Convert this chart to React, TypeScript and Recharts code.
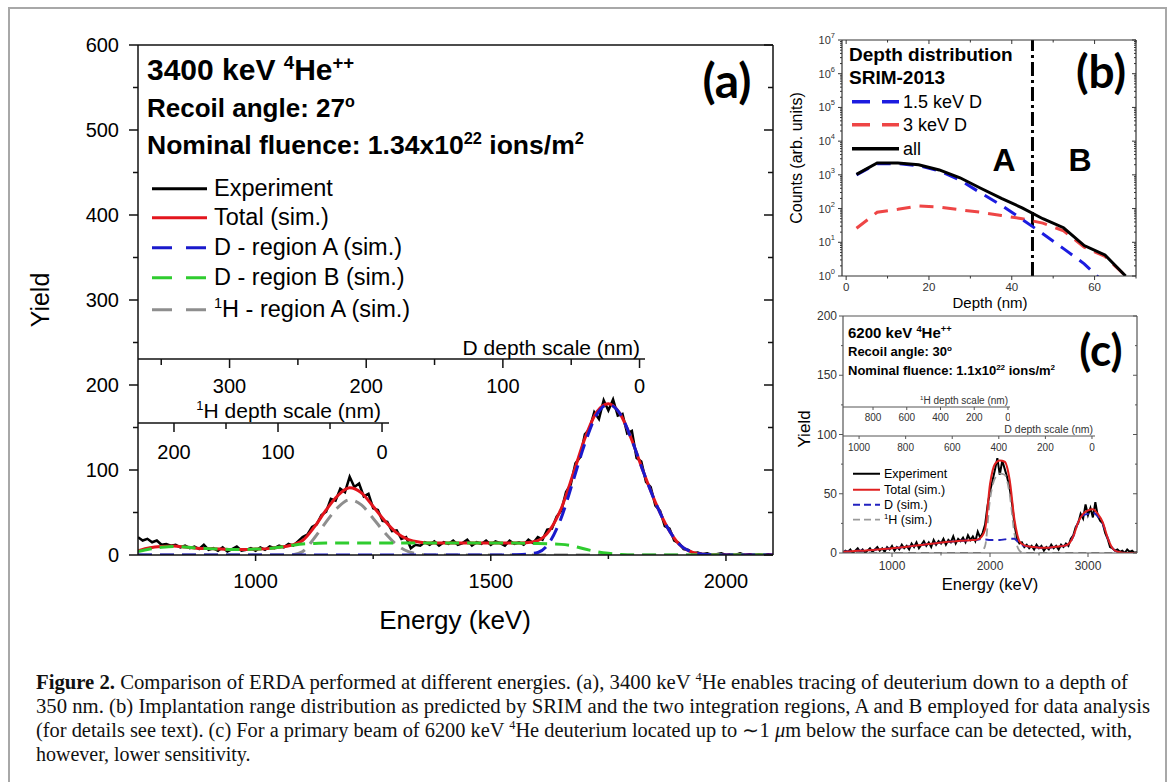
import React from 'react';
import { LineChart, Line, XAxis, YAxis, ReferenceLine } from 'recharts';

const SANS = '"Liberation Sans", Arial, Helvetica, sans-serif';
const CAL = 'Lato, "Open Sans", sans-serif';
const SERIF = '"Liberation Serif", "Times New Roman", serif';

// ---------- panel (a): 3400 keV 4He++ ----------
// experiment sampled every 10 keV from 750 keV
const aExpStart = 750;
const aExpStep = 10;
const aExperiment = [
  21, 17, 19, 15, 17, 12, 13, 11, 12, 9,
  11, 8, 10, 7, 12, 6, 8, 5, 9, 4,
  7, 10, 5, 6, 8, 5, 9, 6, 10, 8,
  11, 9, 13, 11, 16, 21, 24, 33, 36, 47,
  51, 66, 64, 78, 74, 92, 80, 84, 69, 72,
  55, 53, 40, 39, 28, 29, 19, 21, 8, 12,
  11, 15, 12, 16, 11, 15, 13, 17, 12, 14,
  18, 11, 15, 13, 17, 12, 16, 14, 11, 17,
  13, 15, 12, 18, 14, 21, 18, 30, 31, 45,
  52, 74, 83, 108, 115, 142, 148, 168, 160, 182,
  170, 183, 164, 166, 143, 146, 114, 110, 86, 80,
  58, 52, 34, 31, 17, 14, 7, 6, 2, 3,
  1, 2, 0, 1, 2, 0, 1, 0, 2, 0,
  1, 0, 1, 0, 1, 0,
];
const aSimEnergy = [
  750, 775, 800, 825, 850, 875, 900, 925, 950, 975,
  1000, 1025, 1050, 1075, 1100, 1125, 1150, 1175, 1200, 1225,
  1250, 1275, 1300, 1325, 1350, 1375, 1400, 1425, 1450, 1475,
  1500, 1525, 1550, 1575, 1600, 1625, 1650, 1675, 1700, 1725,
  1750, 1775, 1800, 1825, 1850, 1875, 1900, 1925, 1950, 1975,
  2000, 2025, 2050, 2075, 2100,
];
const aTotal = [
  5, 8.5, 10, 10.5, 9.5, 8, 7.5, 7, 6.5, 6.5,
  7, 7.5, 9, 11.5, 17, 33, 53, 70, 79, 73,
  57, 40, 26, 18, 15, 14, 14, 14, 14, 14,
  14, 14, 14, 14.5, 17, 29, 55, 95, 137, 168,
  178, 166, 135, 97, 62, 33, 13, 4, 1, 0.3,
  0, 0, 0, 0, 0,
];
const aDRegionA = [
  0, 0, 0, 0, 0, 0, 0, 0, 0, 0,
  0, 0, 0, 0, 0, 0, 0, 0, 0, 0,
  0, 0, 0, 0, 0, 0, 0, 0, 0, 0,
  0, 0, 0.3, 1, 3, 15, 44, 87, 131, 165,
  177, 166, 135, 97, 62, 33, 13, 4, 1, 0.3,
  0, 0, 0, 0, 0,
];
const aDRegionB = [
  4, 7, 9, 10, 9.5, 8, 7.5, 7, 6.5, 6.5,
  7, 7.5, 9, 11, 13, 13.5, 14, 14, 14, 14,
  14, 14, 14, 14, 14, 14, 14, 14, 14, 14,
  14, 14, 14, 13.8, 13.5, 13, 12.5, 10.5, 7, 4,
  2, 0.7, 0, 0, 0, 0, 0, 0, 0, 0,
  0, 0, 0, 0, 0,
];
const aHRegionA = [
  0, 0, 0, 0, 0, 0, 0, 0, 0, 0,
  0, 0, 0, 0, 4, 20, 39, 56, 65, 59,
  43, 26, 12, 4, 1, 0, 0, 0, 0, 0,
  0, 0, 0, 0, 0, 0, 0, 0, 0, 0,
  0, 0, 0, 0, 0, 0, 0, 0, 0, 0,
  0, 0, 0, 0, 0,
];

// ---------- panel (b): SRIM depth distribution ----------
const bDepth = [2.5, 7.5, 12.5, 17.5, 22.5, 27.5, 32.5, 37.5, 42.5, 47.5, 52.5, 57.5, 62.5, 67.5];
const bAll = [1030, 2250, 2250, 1980, 1400, 820, 400, 200, 105, 50, 27, 8, 4.2, 1.0];
const b15keV = [1000, 2150, 2150, 1880, 1300, 700, 290, 125, 48, 18, 6.5, 2.3, 0.6, 0.15];
const b3keV = [26, 78, 95, 120, 110, 92, 78, 62, 50, 37, 22, 7.2, 3.8, 1.0];
const bBoundary = 45; // nm, A | B

// ---------- panel (c): 6200 keV 4He++ ----------
// experiment sampled every 25 keV from 500 keV
const cExpStart = 500;
const cExpStep = 25;
const cExperiment = [
  0, 2, 1, 3, 0, 2, 4, 1, 3, 0,
  2, 4, 1, 3, 5, 2, 4, 1, 5, 3,
  6, 2, 5, 3, 7, 4, 6, 3, 8, 5,
  9, 4, 7, 10, 6, 9, 5, 11, 7, 10,
  8, 12, 7, 11, 9, 14, 8, 12, 10, 13,
  9, 15, 11, 14, 10, 18, 13, 17, 24, 40,
  52, 61, 70, 80, 66, 78, 71, 64, 55, 42,
  24, 12, 8, 9, 5, 7, 4, 6, 3, 7,
  4, 6, 2, 5, 3, 7, 4, 6, 3, 7,
  5, 8, 6, 12, 15, 22, 25, 33, 29, 41,
  32, 38, 30, 43, 31, 27, 25, 17, 12, 5,
  4, 2, 3, 1, 2, 0, 3, 1, 2, 0,
  1,
];
const cSimEnergy = [
  500, 550, 600, 650, 700, 750, 800, 850, 900, 950,
  1000, 1050, 1100, 1150, 1200, 1250, 1300, 1350, 1400, 1450,
  1500, 1550, 1600, 1650, 1700, 1750, 1800, 1850, 1900, 1950,
  2000, 2050, 2100, 2150, 2200, 2250, 2300, 2350, 2400, 2450,
  2500, 2550, 2600, 2650, 2700, 2750, 2800, 2850, 2900, 2950,
  3000, 3050, 3100, 3150, 3200, 3250, 3300, 3350, 3400, 3450,
  3500,
];
const cTotal = [
  1, 1.2, 1.5, 1.8, 2, 2.3, 2.6, 3, 3.3, 3.6,
  4, 4.4, 4.8, 5.3, 5.8, 6.3, 6.8, 7.3, 7.8, 8.3,
  8.8, 9.2, 9.6, 10, 10.3, 10.5, 10.8, 11, 12.5, 20,
  58, 75, 78, 77, 62, 28, 10, 6.5, 5.5, 5,
  4.5, 4.5, 4.5, 5, 5.5, 6, 7.5, 14, 26, 33,
  36, 37, 33, 26, 13, 4, 1, 0.3, 0, 0,
  0,
];
const cD = [
  1, 1.2, 1.5, 1.8, 2, 2.3, 2.6, 3, 3.3, 3.6,
  4, 4.4, 4.8, 5.3, 5.8, 6.3, 6.8, 7.3, 7.8, 8.3,
  8.8, 9.2, 9.6, 10, 10.3, 10.5, 10.8, 11, 11.5, 11.5,
  11, 11, 11, 11.5, 12, 12, 8, 6, 5.5, 5,
  4.5, 4.5, 4.5, 5, 5.5, 6, 7.5, 14, 26, 32,
  33, 34, 31, 25, 13, 4, 1, 0.3, 0, 0,
  0,
];
const cH = [
  0, 0, 0, 0, 0, 0, 0, 0, 0, 0,
  0, 0, 0, 0, 0, 0, 0, 0, 0, 0,
  0, 0, 0, 0, 0, 0, 0, 0, 0, 6,
  45, 63, 67, 66, 50, 16, 2, 0, 0, 0,
  0, 0, 0, 0, 0, 0, 0, 0, 0, 0,
  0, 0, 0, 0, 0, 0, 0, 0, 0, 0,
  0,
];

// ---------- tick helper ----------
type Side = 'left' | 'right' | 'top' | 'bottom';
type TickSpec = {
  side: Side;
  inward?: boolean;
  majors: number[];
  majorLen: number;
  minorLen: number;
  label?: (v: number) => React.ReactNode;
  labelOffset?: number;
  fontSize?: number;
  color?: string;
  stroke?: string;
  strokeWidth?: number;
};

const isIn = (v: number, list: number[]) =>
  list.some((m) => Math.abs(m - v) <= 1e-6 * Math.max(1, Math.abs(m)));

function tickFn(s: TickSpec) {
  return (props: any) => {
    const { x, y, payload } = props;
    const v = Number(payload?.value);
    const major = isIn(v, s.majors);
    const len = major ? s.majorLen : s.minorLen;
    const sign = s.inward ? -1 : 1;
    const dx = s.side === 'left' ? -sign : s.side === 'right' ? sign : 0;
    const dy = s.side === 'top' ? -sign : s.side === 'bottom' ? sign : 0;
    const off = s.labelOffset ?? 0;
    let lx = x;
    let ly = y;
    let anchor: 'start' | 'middle' | 'end' = 'middle';
    if (s.side === 'left') { lx = x - off; anchor = 'end'; }
    if (s.side === 'right') { lx = x + off; anchor = 'start'; }
    if (s.side === 'bottom') ly = y + off;
    if (s.side === 'top') ly = y - off;
    return (
      <g>
        {len > 0 && (
          <line x1={x} y1={y} x2={x + dx * len} y2={y + dy * len}
            stroke={s.stroke ?? '#000'} strokeWidth={s.strokeWidth ?? 1} />
        )}
        {major && s.label && (
          <text x={lx} y={ly} textAnchor={anchor} dominantBaseline="central"
            fontSize={s.fontSize} fontFamily={SANS} fill={s.color ?? '#000'}>
            {s.label(v)}
          </text>
        )}
      </g>
    );
  };
}

const plain = (v: number) => String(v);

// ---------- small html helpers ----------
type TxtProps = {
  x: number; y: number; size: number; bold?: boolean; family?: string;
  anchor?: 'start' | 'middle' | 'end'; color?: string; rotate?: boolean;
  children: React.ReactNode;
};
function Txt({ x, y, size, bold, family = SANS, anchor = 'start', color = '#000', rotate, children }: TxtProps) {
  const tx = anchor === 'start' ? '0' : anchor === 'middle' ? '-50%' : '-100%';
  return (
    <div style={{
      position: 'absolute', left: x, top: y,
      transform: rotate ? 'translate(-50%, -50%) rotate(-90deg)' : `translate(${tx}, -50%)`,
      fontSize: size, fontWeight: bold ? 700 : 400, fontFamily: family, color,
      whiteSpace: 'nowrap', lineHeight: 1,
    }}>{children}</div>
  );
}

const Sup = ({ children }: { children: React.ReactNode }) => (
  <span style={{ fontSize: '0.62em', position: 'relative', top: '-0.6em' }}>{children}</span>
);

type LegProps = {
  x: number; y: number; len: number; color: string; width: number; dash?: string;
  size: number; gap: number; children: React.ReactNode;
};
function LegendRow({ x, y, len, color, width, dash, size, gap, children }: LegProps) {
  const h = width + 2;
  return (
    <div style={{
      position: 'absolute', left: x, top: y, transform: 'translateY(-50%)',
      display: 'flex', alignItems: 'center', whiteSpace: 'nowrap',
      fontFamily: SANS, fontSize: size, lineHeight: 1,
    }}>
      <svg width={len} height={h} style={{ marginRight: gap, display: 'block' }}>
        <line x1={0} y1={h / 2} x2={len} y2={h / 2} stroke={color} strokeWidth={width} strokeDasharray={dash} />
      </svg>
      <span>{children}</span>
    </div>
  );
}

// secondary depth scale drawn inside a plot (axis line at y = lineY)
type DepthProps = {
  left: number; lineY: number; width: number; domain: [number, number];
  ticks: number[]; majors: number[]; majorLen: number; minorLen: number;
  labelOffset: number; fontSize: number; color: string; stroke: string; strokeWidth: number;
};
function DepthAxis(p: DepthProps) {
  const H = 48;
  return (
    <div style={{ position: 'absolute', left: p.left, top: p.lineY - 1, pointerEvents: 'none' }}>
      <LineChart width={p.width} height={H} margin={{ top: 0, right: 0, bottom: 0, left: 0 }}
        data={[{ d: p.domain[0] }, { d: p.domain[1] }]}>
        <XAxis dataKey="d" type="number" domain={p.domain} allowDataOverflow reversed
          ticks={p.ticks} interval={0} height={H - 1} tickSize={0} tickMargin={0} tickLine={false}
          axisLine={{ stroke: p.stroke, strokeWidth: p.strokeWidth }}
          tick={tickFn({
            side: 'bottom', majors: p.majors, majorLen: p.majorLen, minorLen: p.minorLen,
            label: plain, labelOffset: p.labelOffset, fontSize: p.fontSize, color: p.color,
            stroke: p.stroke, strokeWidth: p.strokeWidth,
          })} />
        <YAxis hide />
      </LineChart>
    </div>
  );
}

// ---------- panels ----------
function PanelA() {
  const expData = aExperiment.map((y, i) => ({ e: aExpStart + i * aExpStep, y }));
  const simData = aSimEnergy.map((e, i) => ({
    e, total: aTotal[i], dA: aDRegionA[i], dB: aDRegionB[i], h: aHRegionA[i],
  }));
  const yTicks = [0, 50, 100, 150, 200, 250, 300, 350, 400, 450, 500, 550, 600];
  const yMajors = [0, 100, 200, 300, 400, 500, 600];
  const xTicks = [1000, 1250, 1500, 1750, 2000];
  const xMajors = [1000, 1500, 2000];
  const ax = { stroke: '#111', strokeWidth: 1.5 };
  const common = { dot: false, isAnimationActive: false, xAxisId: 'b', yAxisId: 'l' } as const;
  return (
    <>
      <div style={{ position: 'absolute', left: 0, top: 0 }}>
        <LineChart width={800} height={650} margin={{ top: 44, right: 26, bottom: 0, left: 0 }}>
          <XAxis xAxisId="b" dataKey="e" type="number" domain={[750, 2100]} allowDataOverflow
            ticks={xTicks} interval={0} height={95} tickSize={0} tickMargin={0} tickLine={false} axisLine={ax}
            tick={tickFn({ side: 'bottom', majors: xMajors, majorLen: 6, minorLen: 4, label: plain, labelOffset: 26, fontSize: 20, stroke: '#111', strokeWidth: 1.5 })} />
          <XAxis xAxisId="t" orientation="top" type="number" domain={[750, 2100]} allowDataOverflow
            ticks={xTicks} interval={0} height={1} tickSize={0} tickMargin={0} tickLine={false} axisLine={ax}
            tick={tickFn({ side: 'top', inward: true, majors: xMajors, majorLen: 6, minorLen: 4, stroke: '#111', strokeWidth: 1.5 })} />
          <YAxis yAxisId="l" type="number" domain={[0, 600]} allowDataOverflow ticks={yTicks} interval={0}
            width={138} tickSize={0} tickMargin={0} tickLine={false} axisLine={ax}
            tick={tickFn({ side: 'left', majors: yMajors, majorLen: 9, minorLen: 5, label: plain, labelOffset: 19, fontSize: 20, stroke: '#111', strokeWidth: 1.5 })} />
          <YAxis yAxisId="r" orientation="right" type="number" domain={[0, 600]} allowDataOverflow ticks={yTicks} interval={0}
            width={1} tickSize={0} tickMargin={0} tickLine={false} axisLine={ax}
            tick={tickFn({ side: 'right', inward: true, majors: yMajors, majorLen: 9, minorLen: 5, stroke: '#111', strokeWidth: 1.5 })} />
          <Line {...common} data={expData} dataKey="y" type="linear" stroke="#000" strokeWidth={2.5} />
          <Line {...common} data={simData} dataKey="total" type="monotone" stroke="#e3151d" strokeWidth={3} />
          <Line {...common} data={simData} dataKey="h" type="monotone" stroke="#8e8e8e" strokeWidth={3} strokeDasharray="14 8" />
          <Line {...common} data={simData} dataKey="dB" type="monotone" stroke="#2fcc2f" strokeWidth={3} strokeDasharray="14 8" />
          <Line {...common} data={simData} dataKey="dA" type="monotone" stroke="#1a1acc" strokeWidth={3} strokeDasharray="14 8" />
        </LineChart>
      </div>

      <DepthAxis left={138} lineY={359} width={507} domain={[-4, 367]}
        ticks={[350, 300, 250, 200, 150, 100, 50, 0]} majors={[300, 200, 100, 0]}
        majorLen={9} minorLen={6} labelOffset={27} fontSize={20} color="#000" stroke="#111" strokeWidth={1.5} />
      <Txt x={640} y={347} size={21} anchor="end">D depth scale (nm)</Txt>

      <DepthAxis left={138} lineY={423} width={251} domain={[-6.7, 234.6]}
        ticks={[200, 150, 100, 50, 0]} majors={[200, 100, 0]}
        majorLen={9} minorLen={6} labelOffset={29} fontSize={20} color="#000" stroke="#111" strokeWidth={1.5} />
      <Txt x={381} y={410} size={21} anchor="end"><Sup>1</Sup>H depth scale (nm)</Txt>

      <Txt x={147} y={70} size={30} bold>3400 keV <Sup>4</Sup>He<Sup>++</Sup></Txt>
      <Txt x={147} y={108} size={26} bold>Recoil angle: 27<Sup>o</Sup></Txt>
      <Txt x={147} y={145} size={26.5} bold>Nominal fluence: 1.34x10<Sup>22</Sup> ions/m<Sup>2</Sup></Txt>
      <Txt x={727} y={80} size={48} bold family={CAL} anchor="middle">(a)</Txt>

      <LegendRow x={152} y={189} len={55} color="#000" width={3} size={23.5} gap={7}>Experiment</LegendRow>
      <LegendRow x={152} y={218} len={55} color="#e3151d" width={3} size={23.5} gap={7}>Total (sim.)</LegendRow>
      <LegendRow x={152} y={248} len={55} color="#1a1acc" width={3} dash="20 14" size={23.5} gap={7}>D - region A (sim.)</LegendRow>
      <LegendRow x={152} y={278} len={55} color="#2fcc2f" width={3} dash="20 14" size={23.5} gap={7}>D - region B (sim.)</LegendRow>
      <LegendRow x={152} y={310} len={55} color="#8e8e8e" width={3} dash="20 14" size={23.5} gap={7}><Sup>1</Sup>H - region A (sim.)</LegendRow>

      <Txt x={40} y={300} size={25} rotate>Yield</Txt>
      <Txt x={455} y={620} size={26} anchor="middle">Energy (keV)</Txt>
    </>
  );
}

function PanelB() {
  const data = bDepth.map((d, i) => ({ d, all: bAll[i], low: b15keV[i], high: b3keV[i] }));
  const decades = [1, 10, 100, 1e3, 1e4, 1e5, 1e6, 1e7];
  const yTicks: number[] = [];
  decades.forEach((dec, k) => {
    yTicks.push(dec);
    if (k < decades.length - 1) [2, 3, 4, 5, 6, 7, 8, 9].forEach((m) => yTicks.push(m * dec));
  });
  const xTicks = [0, 10, 20, 30, 40, 50, 60, 70];
  const xMajors = [0, 20, 40, 60];
  const ax = { stroke: '#333', strokeWidth: 1.2 };
  const logLabel = (v: number) => (
    <>
      <tspan>10</tspan>
      <tspan dy={-5} fontSize={7.5}>{Math.round(Math.log10(v))}</tspan>
    </>
  );
  const common = { dot: false, isAnimationActive: false, xAxisId: 'b', yAxisId: 'l', type: 'linear' } as const;
  return (
    <>
      <div style={{ position: 'absolute', left: 780, top: 0 }}>
        <LineChart width={380} height={320} margin={{ top: 39, right: 23, bottom: 0, left: 0 }} data={data}>
          <XAxis xAxisId="b" dataKey="d" type="number" domain={[-1, 70]} allowDataOverflow
            ticks={xTicks} interval={0} height={44} tickSize={0} tickMargin={0} tickLine={false} axisLine={ax}
            tick={tickFn({ side: 'bottom', majors: xMajors, majorLen: 4, minorLen: 2.5, label: plain, labelOffset: 11, fontSize: 11.5, color: '#333', stroke: '#333' })} />
          <XAxis xAxisId="t" orientation="top" dataKey="d" type="number" domain={[-1, 70]} allowDataOverflow
            ticks={xTicks} interval={0} height={1} tickSize={0} tickMargin={0} tickLine={false} axisLine={ax}
            tick={tickFn({ side: 'top', inward: true, majors: xMajors, majorLen: 4, minorLen: 2.5, stroke: '#333' })} />
          <YAxis yAxisId="l" type="number" scale="log" domain={[1, 1e7]} allowDataOverflow ticks={yTicks} interval={0}
            width={62} tickSize={0} tickMargin={0} tickLine={false} axisLine={ax}
            tick={tickFn({ side: 'left', majors: decades, majorLen: 4, minorLen: 2, label: logLabel, labelOffset: 7, fontSize: 11, color: '#333', stroke: '#333' })} />
          <YAxis yAxisId="r" orientation="right" type="number" scale="log" domain={[1, 1e7]} allowDataOverflow ticks={yTicks} interval={0}
            width={1} tickSize={0} tickMargin={0} tickLine={false} axisLine={ax}
            tick={tickFn({ side: 'right', inward: true, majors: decades, majorLen: 4, minorLen: 2, stroke: '#333' })} />
          <ReferenceLine xAxisId="b" yAxisId="l" x={bBoundary} stroke="#000" strokeWidth={3} strokeDasharray="14 4 3 4" />
          <Line {...common} dataKey="high" stroke="#ee4545" strokeWidth={3} strokeDasharray="14 9" />
          <Line {...common} dataKey="low" stroke="#1c1ce0" strokeWidth={3} strokeDasharray="14 9" />
          <Line {...common} dataKey="all" stroke="#000" strokeWidth={3} />
        </LineChart>
      </div>
      <Txt x={849} y={54} size={19} bold>Depth distribution</Txt>
      <Txt x={849} y={77} size={19} bold>SRIM-2013</Txt>
      <LegendRow x={852} y={102} len={47} color="#1c1ce0" width={3.5} dash="18 12" size={18} gap={4}>1.5 keV D</LegendRow>
      <LegendRow x={852} y={125} len={47} color="#ee4545" width={3.5} dash="18 12" size={18} gap={4}>3 keV D</LegendRow>
      <LegendRow x={852} y={149} len={47} color="#000" width={3.5} size={18} gap={4}>all</LegendRow>
      <Txt x={1004} y={160} size={32} bold anchor="middle">A</Txt>
      <Txt x={1080} y={160} size={32} bold anchor="middle">B</Txt>
      <Txt x={1101} y={71} size={46} bold family={CAL} anchor="middle">(b)</Txt>
      <Txt x={797} y={158} size={16} rotate>Counts (arb. units)</Txt>
      <Txt x={990} y={302} size={15} anchor="middle">Depth (nm)</Txt>
    </>
  );
}

function PanelC() {
  const expData = cExperiment.map((y, i) => ({ e: cExpStart + i * cExpStep, y }));
  const simData = cSimEnergy.map((e, i) => ({ e, total: cTotal[i], d: cD[i], h: cH[i] }));
  const yTicks = [0, 25, 50, 75, 100, 125, 150, 175, 200];
  const yMajors = [0, 50, 100, 150, 200];
  const xTicks = [1000, 1500, 2000, 2500, 3000];
  const xMajors = [1000, 2000, 3000];
  const ax = { stroke: '#555', strokeWidth: 1.2 };
  const common = { dot: false, isAnimationActive: false, xAxisId: 'b', yAxisId: 'l' } as const;
  return (
    <>
      <div style={{ position: 'absolute', left: 780, top: 290 }}>
        <LineChart width={380} height={320} margin={{ top: 25, right: 22, bottom: 0, left: 0 }}>
          <XAxis xAxisId="b" dataKey="e" type="number" domain={[500, 3500]} allowDataOverflow
            ticks={xTicks} interval={0} height={57} tickSize={0} tickMargin={0} tickLine={false} axisLine={ax}
            tick={tickFn({ side: 'bottom', majors: xMajors, majorLen: 4, minorLen: 2.5, label: plain, labelOffset: 13, fontSize: 12, color: '#333', stroke: '#555' })} />
          <XAxis xAxisId="t" orientation="top" type="number" domain={[500, 3500]} allowDataOverflow
            ticks={xTicks} interval={0} height={1} tickSize={0} tickMargin={0} tickLine={false} axisLine={ax}
            tick={tickFn({ side: 'top', inward: true, majors: xMajors, majorLen: 4, minorLen: 2.5, stroke: '#555' })} />
          <YAxis yAxisId="l" type="number" domain={[0, 200]} allowDataOverflow ticks={yTicks} interval={0}
            width={63} tickSize={0} tickMargin={0} tickLine={false} axisLine={ax}
            tick={tickFn({ side: 'left', majors: yMajors, majorLen: 4, minorLen: 2, label: plain, labelOffset: 6, fontSize: 12, color: '#333', stroke: '#555' })} />
          <YAxis yAxisId="r" orientation="right" type="number" domain={[0, 200]} allowDataOverflow ticks={yTicks} interval={0}
            width={1} tickSize={0} tickMargin={0} tickLine={false} axisLine={ax}
            tick={tickFn({ side: 'right', inward: true, majors: yMajors, majorLen: 4, minorLen: 2, stroke: '#555' })} />
          <Line {...common} data={expData} dataKey="y" type="linear" stroke="#000" strokeWidth={2} />
          <Line {...common} data={simData} dataKey="h" type="monotone" stroke="#9a9a9a" strokeWidth={1.8} strokeDasharray="8 5" />
          <Line {...common} data={simData} dataKey="d" type="monotone" stroke="#2222c0" strokeWidth={2} strokeDasharray="8 5" />
          <Line {...common} data={simData} dataKey="total" type="monotone" stroke="#e02020" strokeWidth={2} />
        </LineChart>
      </div>

      <DepthAxis left={843} lineY={407} width={167} domain={[-12, 978]}
        ticks={[800, 600, 400, 200, 0]} majors={[800, 600, 400, 200, 0]}
        majorLen={3} minorLen={0} labelOffset={10} fontSize={10} color="#333" stroke="#555" strokeWidth={1} />
      <Txt x={1008} y={401} size={10} anchor="end" color="#333"><Sup>1</Sup>H depth scale (nm)</Txt>
      <DepthAxis left={843} lineY={436} width={252} domain={[-13, 1069]}
        ticks={[1000, 800, 600, 400, 200, 0]} majors={[1000, 800, 600, 400, 200, 0]}
        majorLen={3} minorLen={0} labelOffset={11} fontSize={10} color="#333" stroke="#555" strokeWidth={1} />
      <Txt x={1093} y={429} size={10.5} anchor="end" color="#333">D depth scale (nm)</Txt>

      <Txt x={848} y={333} size={15} bold>6200 keV <Sup>4</Sup>He<Sup>++</Sup></Txt>
      <Txt x={848} y={352} size={13} bold>Recoil angle: 30<Sup>o</Sup></Txt>
      <Txt x={848} y={371} size={13} bold>Nominal fluence: 1.1x10<Sup>22</Sup> ions/m<Sup>2</Sup></Txt>
      <Txt x={1101} y={349} size={44} bold family={CAL} anchor="middle">(c)</Txt>

      <LegendRow x={853} y={474} len={27} color="#000" width={2} size={12.5} gap={4}>Experiment</LegendRow>
      <LegendRow x={853} y={490} len={27} color="#e02020" width={2} size={12.5} gap={4}>Total (sim.)</LegendRow>
      <LegendRow x={853} y={505} len={27} color="#2222c0" width={2} dash="7 4" size={12.5} gap={4}>D (sim.)</LegendRow>
      <LegendRow x={853} y={520} len={27} color="#9a9a9a" width={1.8} dash="7 4" size={12.5} gap={4}><Sup>1</Sup>H (sim.)</LegendRow>

      <Txt x={804} y={429} size={17} rotate>Yield</Txt>
      <Txt x={990} y={584} size={16.5} anchor="middle">Energy (keV)</Txt>
    </>
  );
}

function Caption() {
  return (
    <svg width={1171} height={132} style={{ position: 'absolute', left: 0, top: 650 }}>
      <g fontFamily={SERIF} fontSize={20} fill="#111">
        <text x={36} y={39} textLength={1092} lengthAdjust="spacingAndGlyphs">
          <tspan fontWeight={700}>Figure 2.</tspan>
          <tspan> Comparison of ERDA performed at different energies. (a), 3400 keV </tspan>
          <tspan dy={-8} fontSize={12}>4</tspan>
          <tspan dy={8}>He enables tracing of deuterium down to a depth of</tspan>
        </text>
        <text x={36} y={63} textLength={1114} lengthAdjust="spacingAndGlyphs">
          350 nm. (b) Implantation range distribution as predicted by SRIM and the two integration regions, A and B employed for data analysis
        </text>
        <text x={36} y={87} textLength={1096} lengthAdjust="spacingAndGlyphs">
          <tspan>(for details see text). (c) For a primary beam of 6200 keV </tspan>
          <tspan dy={-8} fontSize={12}>4</tspan>
          <tspan dy={8}>He deuterium located up to ∼1 </tspan>
          <tspan fontStyle="italic">μ</tspan>
          <tspan>m below the surface can be detected, with,</tspan>
        </text>
        <text x={36} y={111}>however, lower sensitivity.</text>
      </g>
    </svg>
  );
}

export default function App() {
  return (
    <div style={{ position: 'absolute', left: 0, top: 0, width: 1171, height: 782, background: '#fff', overflow: 'hidden' }}>
      <div style={{ position: 'absolute', left: 8, top: 7, width: 1155, height: 800, border: '2px solid #a8a8a8' }} />
      <PanelA />
      <PanelB />
      <PanelC />
      <Caption />
    </div>
  );
}
